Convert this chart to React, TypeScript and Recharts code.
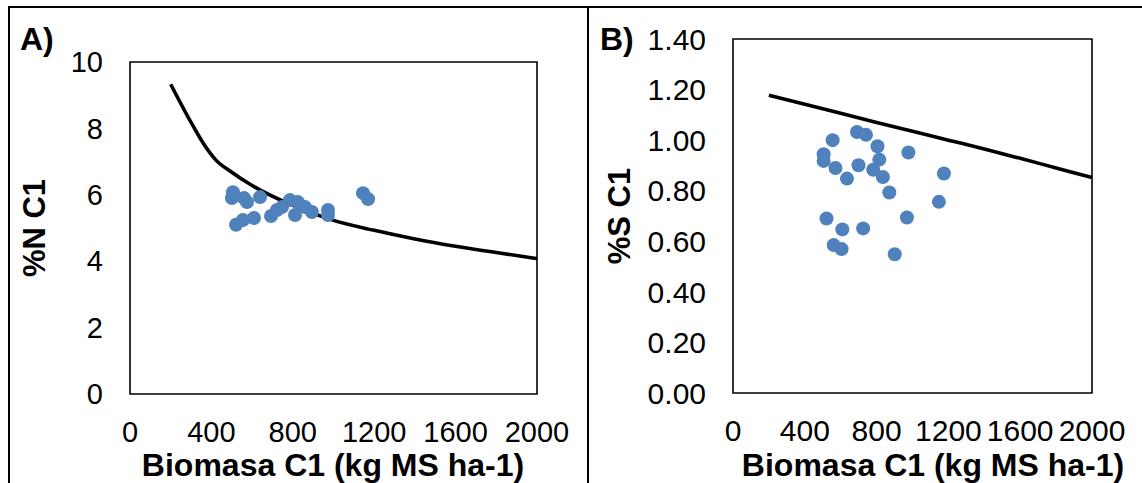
import React from "react"
import { ComposedChart, Scatter, Line, XAxis, YAxis, ReferenceArea, Label } from "recharts"

// panel A: %N vs biomass
const biomasaA = [506, 501, 560, 575, 639, 521, 555, 609, 693, 722, 747, 786, 811, 825, 860, 894, 973, 973, 1145, 1170]
const nA = [6.08, 5.9, 5.9, 5.78, 5.93, 5.1, 5.24, 5.3, 5.36, 5.54, 5.63, 5.84, 5.39, 5.78, 5.63, 5.48, 5.54, 5.39, 6.05, 5.87]
const curveAx = [200, 300, 360, 420, 500, 600, 800, 1000, 1200, 1400, 1600, 1800, 2000]
const curveAy = [9.33, 8.18, 7.55, 7.06, 6.68, 6.28, 5.68, 5.23, 4.93, 4.67, 4.45, 4.26, 4.08]

// panel B: %S vs biomass
const biomasaB = [555, 505, 505, 571, 635, 691, 741, 805, 699, 815, 781, 835, 871, 977, 1175, 1147, 521, 609, 725, 969, 561, 605, 901]
const sB = [1.0, 0.944, 0.918, 0.89, 0.848, 1.032, 1.021, 0.976, 0.901, 0.923, 0.883, 0.854, 0.793, 0.951, 0.868, 0.756, 0.69, 0.647, 0.651, 0.694, 0.585, 0.569, 0.549]
const curveBx = [200, 400, 600, 800, 1000, 1200, 1400, 1600, 1800, 2000]
const curveBy = [1.178, 1.142, 1.106, 1.07, 1.035, 1.0, 0.965, 0.928, 0.89, 0.852]

const xTicks = [0, 400, 800, 1200, 1600, 2000]
const yTicksA = [0, 2, 4, 6, 8, 10]
const yTicksB = [0, 0.2, 0.4, 0.6, 0.8, 1.0, 1.2, 1.4]

const xTitle = "Biomasa C1 (kg MS ha-1)"

const FONT = "'Liberation Sans', Arial, sans-serif"
const BLUE = "#4F81BD"

const zip = (xs: number[], ys: number[]) => xs.map((x, i) => ({ x, y: ys[i] }))

const dot = (p: any) => <circle cx={p.cx} cy={p.cy} r={7} fill={BLUE} />

interface PanelProps {
  width: number
  plot: { top: number; right: number; bottom: number; left: number }
  points: { x: number; y: number }[]
  curve: { x: number; y: number }[]
  yMax: number
  yTicks: number[]
  yFmt: (v: number) => string
  yTitle: string
  yTitleX: number
  xTitleX: number
  letter: string
  letterX: number
  tickSize: number
}

const Y_W = 100
const X_H = 60

function Panel(props: PanelProps) {
  const { plot } = props
  const margin = { top: plot.top, right: plot.right, bottom: plot.bottom - X_H, left: plot.left - Y_W }
  const tickStyle = { fontFamily: FONT, fontSize: props.tickSize, fill: "#000" }
  const plotMid = plot.top + (483 - plot.top - plot.bottom) / 2
  return (
    <ComposedChart width={props.width} height={483} margin={margin}>
      <XAxis
        type="number"
        dataKey="x"
        domain={[0, 2000]}
        ticks={xTicks}
        interval={0}
        axisLine={false}
        tickLine={false}
        tickSize={0}
        tickMargin={27}
        tick={tickStyle}
        height={X_H}
      >
        <Label
          content={() => (
            <text x={props.xTitleX} y={476} textAnchor="middle" fontFamily={FONT} fontSize={32} fontWeight="bold" fill="#000">
              {xTitle}
            </text>
          )}
        />
      </XAxis>
      <YAxis
        type="number"
        domain={[0, props.yMax]}
        ticks={props.yTicks}
        interval={0}
        axisLine={false}
        tickLine={false}
        tickSize={0}
        tickMargin={27}
        tick={tickStyle}
        tickFormatter={props.yFmt}
        width={Y_W}
      >
        <Label
          content={() => (
            <text
              x={props.yTitleX}
              y={plotMid}
              transform={`rotate(-90 ${props.yTitleX} ${plotMid})`}
              textAnchor="middle"
              dominantBaseline="central"
              fontFamily={FONT}
              fontSize={31}
              fontWeight="bold"
              fill="#000"
            >
              {props.yTitle}
            </text>
          )}
        />
      </YAxis>
      <ReferenceArea x1={0} x2={2000} y1={0} y2={props.yMax} fill="none" stroke="#000" strokeWidth={1.6} fillOpacity={0} />
      <Scatter data={props.points} dataKey="y" fill={BLUE} shape={dot} isAnimationActive={false} />
      <Line data={props.curve} dataKey="y" type="monotone" stroke="#000" strokeWidth={3.6} dot={false} activeDot={false} isAnimationActive={false} />
      <text x={props.letterX} y={50} fontFamily={FONT} fontSize={32} fontWeight="bold" fill="#000">
        {props.letter}
      </text>
    </ComposedChart>
  )
}

export default function App() {
  return (
    <div style={{ position: "absolute", left: 0, top: 0, width: 1142, height: 483, background: "#fff", overflow: "hidden" }}>
      <div style={{ position: "absolute", left: 8, top: 6, width: 1134, height: 477, borderTop: "2px solid #000", borderLeft: "2px solid #000" }} />
      <div style={{ position: "absolute", left: 587, top: 6, width: 2, height: 477, background: "#000" }} />
      <div style={{ position: "absolute", left: 0, top: 0 }}>
        <Panel
          width={588}
          plot={{ top: 62, right: 51, bottom: 89, left: 130 }}
          points={zip(biomasaA, nA)}
          curve={zip(curveAx, curveAy)}
          yMax={10}
          yTicks={yTicksA}
          yFmt={(v) => String(v)}
          yTitle="%N C1"
          yTitleX={34}
          xTitleX={333}
          letter="A)"
          letterX={20}
          tickSize={29}
        />
      </div>
      <div style={{ position: "absolute", left: 588, top: 0 }}>
        <Panel
          width={554}
          plot={{ top: 39, right: 50, bottom: 90, left: 145 }}
          points={zip(biomasaB, sB)}
          curve={zip(curveBx, curveBy)}
          yMax={1.4}
          yTicks={yTicksB}
          yFmt={(v) => v.toFixed(2)}
          yTitle="%S C1"
          yTitleX={31}
          xTitleX={345}
          letter="B)"
          letterX={12}
          tickSize={30}
        />
      </div>
    </div>
  )
}
